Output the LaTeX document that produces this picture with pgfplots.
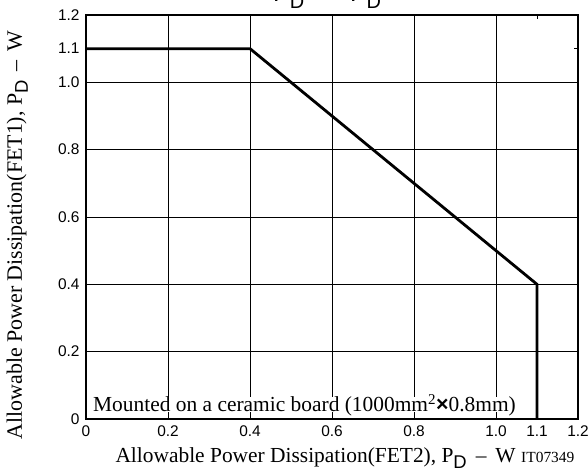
\documentclass[border=0pt]{standalone}
\usepackage{pgfplots}
\pgfplotsset{compat=1.18}
\usepackage{fontspec}
\setmainfont{Liberation Serif}
\newfontfamily\arial{Liberation Sans}
\begin{document}
\begin{tikzpicture}[x=1bp,y=1bp]
\begin{axis}[
  at={(0,0)}, anchor=south west,
  scale only axis, width=492bp, height=404bp,
  xmin=0, xmax=1.2, ymin=0, ymax=1.2,
  xtick={0,0.2,0.4,0.6,0.8,1.0,1.2},
  ytick={0,0.2,0.4,0.6,0.8,1.0,1.2},
  xticklabels={0,0.2,0.4,0.6,0.8,1.0,1.2},
  yticklabels={0,0.2,0.4,0.6,0.8,1.0,1.2},
  extra x ticks={1.1}, extra x tick labels={1.1},
  extra y ticks={1.1}, extra y tick labels={1.1},
  extra tick style={grid=none},
  grid=major,
  major grid style={black, line width=0.6bp},
  axis line style={line width=1.3bp},
  tick style={black, line width=0.6bp},
  tick align=inside, major tick length=4bp,
  tick label style={font=\arial\fontsize{15.5}{17}\selectfont},
  /pgf/number format/assume math mode=true,
  xticklabel style={yshift=-3bp},
  yticklabel style={xshift=-3bp},
]
\addplot[black, line width=2.8bp] coordinates {(0,1.1) (0.4,1.1) (1.1,0.4) (1.1,0)};
\end{axis}
\node[anchor=base west, fill=white, inner sep=0pt, text height=15bp, text depth=0bp,
  font=\fontsize{21.5}{24}\selectfont]
  at (7,7) {Mounted on a ceramic board (1000mm\textsuperscript{2}{\arial\bfseries ×}0.8mm)};
\node[anchor=base west, font=\fontsize{21.5}{24}\selectfont] at (26,-44)
  {Allowable Power Dissipation(FET2), P\raisebox{-6bp}{\arial\fontsize{18.5}{21}\selectfont D}\hspace{9bp}–\hspace{9bp}W};
\node[anchor=base west, inner sep=0pt] at (435,-44)
  {\fontsize{15.5}{17}\selectfont IT07349};
\node[rotate=90, anchor=base, font=\fontsize{22}{25}\selectfont] at (-64,184)
  {Allowable Power Dissipation(FET1), P\raisebox{-6bp}{\arial\fontsize{18.5}{21}\selectfont D}\hspace{9bp}–\hspace{9bp}W};
\node[anchor=base west, inner sep=0pt] at (187,417)
  {\arial\fontsize{25}{28}\selectfont P\raisebox{-7bp}{\fontsize{20}{22}\selectfont D}\hspace{16bp}–\hspace{16bp}P\raisebox{-7bp}{\fontsize{20}{22}\selectfont D}};
\pgfresetboundingbox
\useasboundingbox (-86,-55) rectangle (502,419);
\end{tikzpicture}
\end{document}
